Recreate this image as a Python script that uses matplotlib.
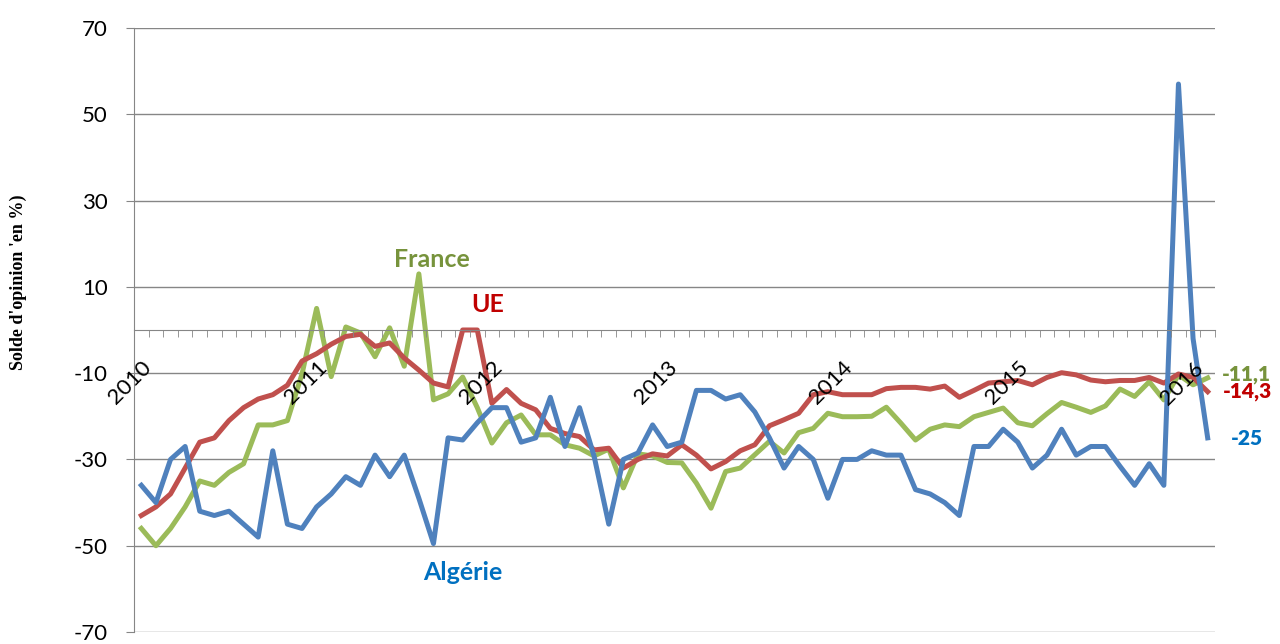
import numpy as np
import matplotlib
matplotlib.use("Agg")
import matplotlib.pyplot as plt

plt.rcParams["axes.unicode_minus"] = False

# monthly balance of opinion, Jan 2010 - Feb 2016
algerie = [-36, -40, -30, -27, -42, -43, -42, -45, -48, -28, -45, -46,
           -41, -38, -34, -36, -29, -34, -29, -39, -49.5, -25, -25.5, -21.5,
           -18, -18, -26, -25, -15.6, -27, -18, -29.3, -45, -30, -28.5, -22,
           -27, -26, -14, -14, -16, -15, -19, -25, -32, -27, -30, -39,
           -30, -30, -28, -29, -29, -37, -38, -40, -43, -27, -27, -23,
           -26, -32, -29, -23, -29, -27, -27, -31.6, -36, -31, -36, 57,
           -2, -25]
ue = [-43, -41, -38, -32, -26, -25, -21, -18, -16, -15, -12.8, -7.2,
      -5.5, -3.3, -1.5, -1, -3.8, -3, -6.5, -9.3, -12.3, -13.2, 0, 0,
      -17, -13.8, -17, -18.5, -22.8, -24, -24.7, -27.8, -27.4, -32, -30, -28.7,
      -29.2, -26.6, -29, -32.2, -30.5, -28, -26.6, -22.2, -20.8, -19.3, -15, -14.3,
      -15, -15, -15, -13.6, -13.3, -13.3, -13.7, -13, -15.6, -14, -12.3, -12,
      -11.7, -12.7, -11, -9.9, -10.4, -11.6, -12, -11.7, -11.7, -11, -12.3, -10.2,
      -11, -14.3]
france = [-46, -50, -46, -41, -35, -36, -33, -31, -22, -22, -21, -10.2,
          5, -10.8, 0.7, -0.7, -6.2, 0.5, -8.4, 13, -16.2, -14.8, -10.9, -18,
          -26.2, -21.5, -19.7, -24.3, -24.3, -26.6, -27.4, -29.2, -27.6, -36.6, -28.7, -29.2,
          -30.7, -30.8, -35.5, -41.3, -32.8, -32, -28.9, -25.8, -28.5, -23.8, -22.8, -19.3,
          -20.1, -20.1, -20, -17.9, -21.6, -25.5, -23, -22, -22.4, -20.1, -19.1, -18.1,
          -21.5, -22.2, -19.4, -16.8, -17.9, -19.1, -17.6, -13.7, -15.4, -12, -16.2, -10.4,
          -12.7, -11.1]
years = ["2010", "2011", "2012", "2013", "2014", "2015", "2016"]

x = np.arange(len(algerie))
grey = "#868686"

fig = plt.figure(figsize=(12.8, 6.44), dpi=100)
ax = fig.add_axes([0.1047, 0.0186, 0.8445, 0.938])

ax.plot(x, france, color="#9BBB59", lw=3.6, solid_joinstyle="round")
ax.plot(x, ue, color="#C0504D", lw=3.6, solid_joinstyle="round")
ax.plot(x, algerie, color="#4F81BD", lw=3.6, solid_joinstyle="round")

ax.set_xlim(-0.5, len(x) - 0.5)
ax.set_ylim(-70, 70)
ax.set_yticks(range(-70, 71, 20))
ax.yaxis.grid(True, color=grey, lw=1)
ax.set_axisbelow(True)
# year labels sit on top of the lines, like in the original
ax.xaxis.set_zorder(3)

for s in ["top", "right"]:
    ax.spines[s].set_visible(False)
ax.spines["left"].set_color(grey)
ax.spines["bottom"].set_color(grey)
ax.spines["bottom"].set_position(("data", 0))

ax.set_xticks(x[::12])
ax.set_xticklabels(years, family="Lato", size=16)
ax.set_xticks(np.arange(len(x) + 1) - 0.5, minor=True)
ax.tick_params(axis="x", which="major", length=0, pad=20)
ax.tick_params(axis="x", which="minor", length=5, direction="out", color=grey)
ax.tick_params(axis="y", length=5.8, color=grey, pad=13)
for t in ax.get_yticklabels():
    t.set_family("Lato")
    t.set_size(16)
plt.setp(ax.get_xticklabels(), rotation=45, ha="right", va="top",
         rotation_mode="anchor")

fig.text(0.014, 0.562, "Solde d'opinion 'en %)", rotation=90, ha="center",
         va="center", family="Liberation Serif", weight="bold", size=13)

lab = dict(family="Lato", weight="bold", size=18, ha="center", va="baseline")
ax.text(19.86, 14.6, "France", color="#77933C", **lab)
ax.text(23.7, 4.2, "UE", color="#C00000", **lab)
ax.text(22.0, -57.9, "Algérie", color="#0070C0", **lab)

end = dict(family="Lato", weight="heavy", size=15, ha="left", va="baseline",
           clip_on=False)
ax.text(74.0, -11.8, "-11,1", color="#77933C", **end)
ax.text(74.05, -15.7, "-14,3", color="#C00000", **end)
ax.text(74.6, -26.6, "-25", color="#0070C0", **end)

fig.savefig("out.png", dpi=100)
